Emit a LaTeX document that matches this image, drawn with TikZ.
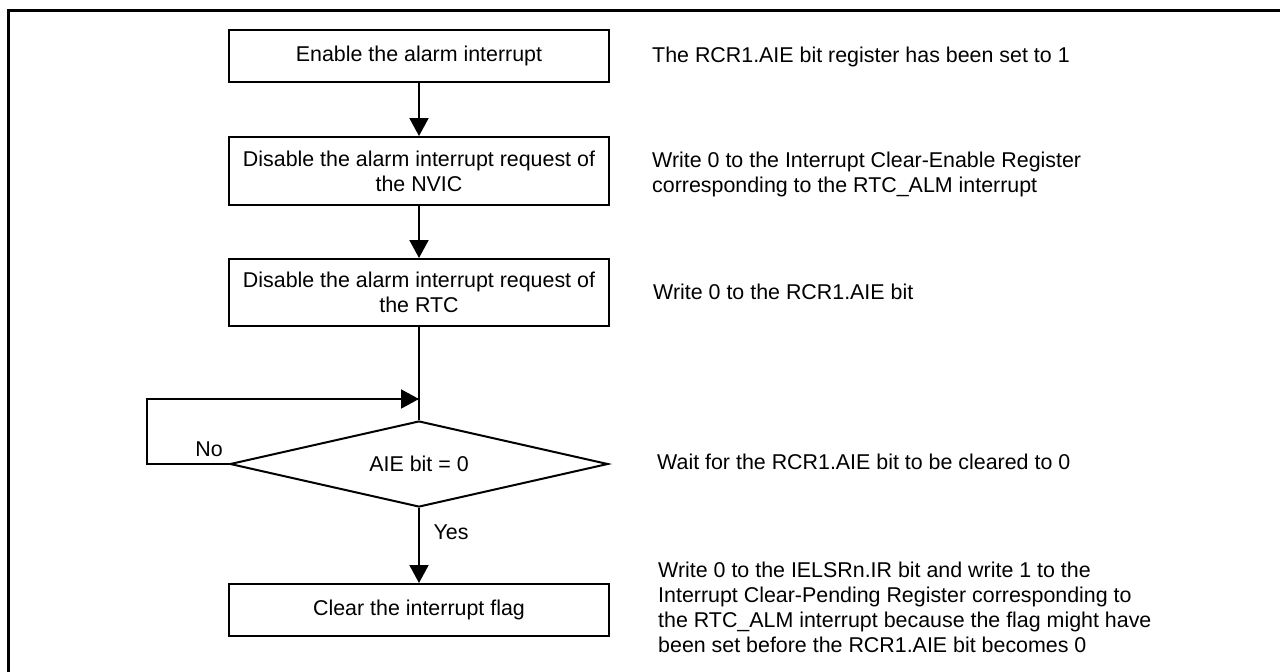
\documentclass[tikz,border=0pt]{standalone}
\usepackage{fontspec}
\setmainfont{Liberation Sans}
\usetikzlibrary{shapes.geometric,arrows.meta}
\begin{document}
\begin{tikzpicture}[x=1pt,y=-1pt,
 every node/.style={font=\fontsize{21.4}{25}\selectfont},
 box/.style={draw,line width=2pt,minimum width=380pt,align=center,inner sep=0pt},
 arr/.style={line width=2pt,-{Triangle[width=19pt,length=18pt]}},
 ln/.style={line width=2pt},
 note/.style={anchor=west,align=left,inner sep=0pt},
 lbl/.style={inner sep=0pt}]
\useasboundingbox (0,0) rectangle (1280,672);
\draw[line width=3.5pt] (8.5,672) -- (8.5,10.5) -- (1280,10.5);

\node[box,minimum height=52pt] (b1) at (419,56) {Enable the alarm interrupt};
\node[box,minimum height=68pt] (b2) at (419,171) {Disable the alarm interrupt request of\\the NVIC};
\node[box,minimum height=67pt] (b3) at (419,292.5) {Disable the alarm interrupt request of\\the RTC};
\node[draw,line width=2pt,shape=diamond,aspect=4.4,minimum width=378pt,minimum height=86pt,inner sep=0pt] (d) at (419,464) {AIE bit = 0};
\node[box,minimum height=52pt] (b4) at (419,610) {Clear the interrupt flag};

\coordinate (j) at (419,399);
\coordinate (lb) at (147,464);
\coordinate (lt) at (147,399);

\draw[arr] (b1) -- (b2);
\draw[arr] (b2) -- (b3);
\draw[ln] (b3) -- (d.north);
\draw[arr] (d) -- (b4);
\draw[ln] (d.west) -- (lb) -- (lt) -- (j);
\draw[arr] (lt) -- (j);

\node[lbl] (no) at (209,449) {No};
\node[lbl] (yes) at (451,532) {Yes};

\node[note] (n1) at (652,57) {The RCR1.AIE bit register has been set to 1};
\node[note] (n2) at (652,174.5) {Write 0 to the Interrupt Clear-Enable Register\\corresponding to the RTC\_ALM interrupt};
\node[note] (n3) at (653,292) {Write 0 to the RCR1.AIE bit};
\node[note] (n4) at (657,462) {Wait for the RCR1.AIE bit to be cleared to 0};
\node[note] (n5) at (658,607) {Write 0 to the IELSRn.IR bit and write 1 to the\\Interrupt Clear-Pending Register corresponding to\\the RTC\_ALM interrupt because the flag might have\\been set before the RCR1.AIE bit becomes 0};
\end{tikzpicture}
\end{document}
